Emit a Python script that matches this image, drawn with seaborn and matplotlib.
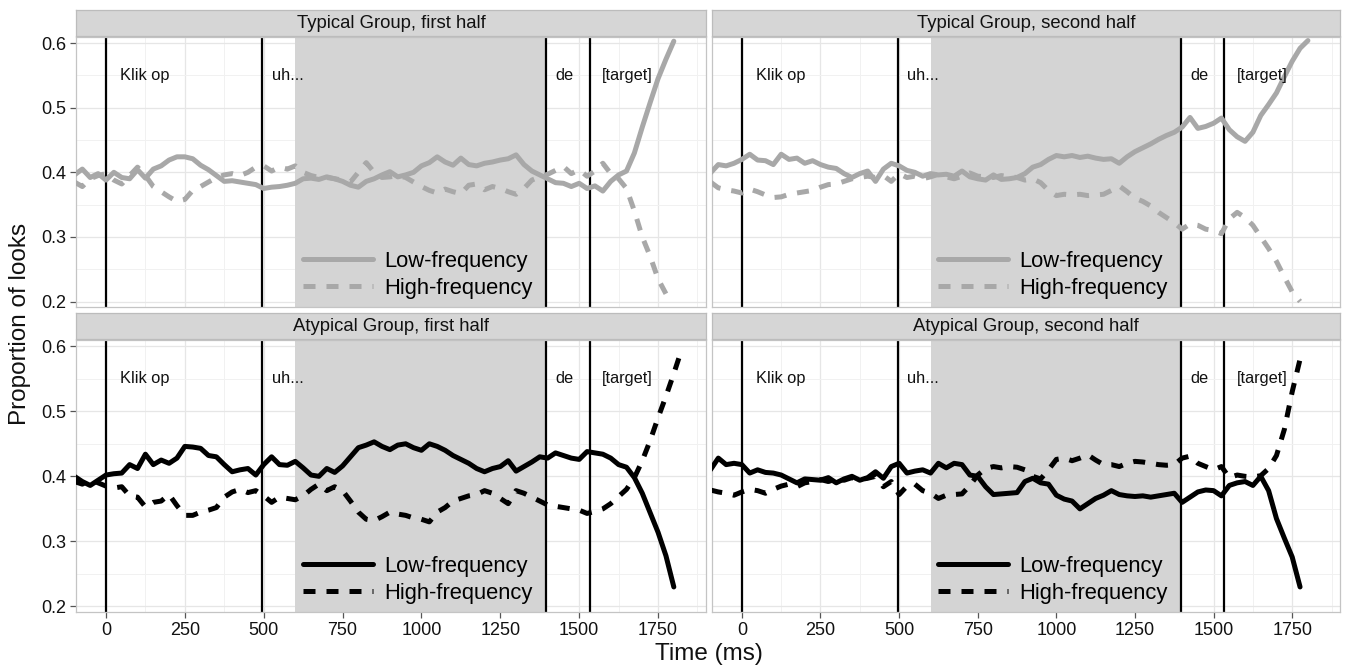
import matplotlib
matplotlib.use("Agg")
import matplotlib.pyplot as plt
import numpy as np
import pandas as pd
import seaborn as sns

# ---------------- data ----------------
time_ms = list(range(-100, 1851, 25))

typ_first_low = [0.396, 0.405, 0.392, 0.398,
    0.388, 0.400, 0.392, 0.390, 0.404, 0.391, 0.405, 0.410,
    0.419, 0.424, 0.424, 0.421, 0.411, 0.404, 0.395, 0.386,
    0.387, 0.385, 0.383, 0.381, 0.375, 0.377, 0.378, 0.380,
    0.383, 0.390, 0.391, 0.389, 0.393, 0.390, 0.386, 0.380,
    0.377, 0.386, 0.390, 0.396, 0.401, 0.393, 0.396, 0.400,
    0.410, 0.415, 0.424, 0.416, 0.411, 0.422, 0.412, 0.410,
    0.414, 0.416, 0.419, 0.421, 0.427, 0.412, 0.402, 0.396,
    0.390, 0.384, 0.383, 0.378, 0.383, 0.375, 0.379, 0.371,
    0.386, 0.396, 0.402, 0.430, 0.470, 0.508, 0.545, 0.575,
    0.603, 0.625, 0.650]
typ_first_high = [0.385, 0.378, 0.390, 0.395,
    0.398, 0.388, 0.382, 0.395, 0.408, 0.395, 0.378, 0.370,
    0.362, 0.355, 0.358, 0.372, 0.378, 0.385, 0.392, 0.396,
    0.398, 0.395, 0.400, 0.408, 0.410, 0.402, 0.408, 0.405,
    0.410, 0.400, 0.395, 0.392, 0.392, 0.390, 0.388, 0.385,
    0.400, 0.415, 0.400, 0.392, 0.393, 0.395, 0.392, 0.385,
    0.378, 0.372, 0.368, 0.374, 0.370, 0.367, 0.380, 0.382,
    0.373, 0.378, 0.375, 0.370, 0.366, 0.375, 0.388, 0.393,
    0.397, 0.403, 0.409, 0.398, 0.404, 0.394, 0.402, 0.414,
    0.398, 0.390, 0.375, 0.340, 0.300, 0.270, 0.235, 0.212,
    0.175, 0.150, 0.130]
typ_second_low = [0.399, 0.412, 0.410, 0.414,
    0.420, 0.428, 0.419, 0.418, 0.412, 0.428, 0.420, 0.422,
    0.414, 0.418, 0.412, 0.408, 0.406, 0.398, 0.392, 0.398,
    0.402, 0.386, 0.405, 0.414, 0.410, 0.403, 0.400, 0.394,
    0.398, 0.396, 0.397, 0.394, 0.402, 0.393, 0.390, 0.388,
    0.396, 0.389, 0.390, 0.392, 0.398, 0.408, 0.412, 0.420,
    0.426, 0.424, 0.426, 0.423, 0.425, 0.422, 0.420, 0.421,
    0.414, 0.424, 0.432, 0.438, 0.444, 0.451, 0.457, 0.462,
    0.470, 0.485, 0.468, 0.471, 0.476, 0.484, 0.466, 0.455,
    0.448, 0.462, 0.488, 0.505, 0.523, 0.548, 0.572, 0.592,
    0.604, 0.625, 0.640]
typ_second_high = [0.385, 0.376, 0.373, 0.371,
    0.368, 0.374, 0.370, 0.365, 0.361, 0.362, 0.366, 0.368,
    0.370, 0.372, 0.377, 0.381, 0.382, 0.386, 0.390, 0.392,
    0.394, 0.392, 0.395, 0.386, 0.398, 0.392, 0.394, 0.390,
    0.393, 0.397, 0.393, 0.390, 0.394, 0.399, 0.394, 0.393,
    0.392, 0.395, 0.393, 0.392, 0.388, 0.390, 0.384, 0.372,
    0.364, 0.366, 0.365, 0.366, 0.364, 0.365, 0.366, 0.372,
    0.379, 0.370, 0.360, 0.355, 0.348, 0.338, 0.330, 0.322,
    0.312, 0.320, 0.318, 0.312, 0.310, 0.305, 0.328, 0.338,
    0.330, 0.318, 0.300, 0.282, 0.262, 0.238, 0.215, 0.200,
    0.185, 0.170, 0.155]
atyp_first_low = [0.400, 0.392, 0.386, 0.394,
    0.402, 0.404, 0.405, 0.418, 0.412, 0.434, 0.418, 0.425,
    0.420, 0.428, 0.446, 0.445, 0.443, 0.432, 0.430, 0.418,
    0.407, 0.410, 0.412, 0.402, 0.418, 0.430, 0.418, 0.417,
    0.423, 0.413, 0.402, 0.400, 0.412, 0.406, 0.416, 0.430,
    0.444, 0.448, 0.453, 0.446, 0.441, 0.448, 0.450, 0.444,
    0.440, 0.450, 0.446, 0.440, 0.432, 0.426, 0.420, 0.412,
    0.407, 0.412, 0.415, 0.424, 0.408, 0.415, 0.422, 0.430,
    0.428, 0.436, 0.432, 0.428, 0.426, 0.438, 0.436, 0.434,
    0.428, 0.418, 0.414, 0.398, 0.374, 0.344, 0.314, 0.278,
    0.230, 0.185, 0.150]
atyp_first_high = [0.392, 0.388, 0.395, 0.390,
    0.385, 0.382, 0.384, 0.370, 0.368, 0.353, 0.360, 0.362,
    0.372, 0.355, 0.340, 0.340, 0.345, 0.348, 0.352, 0.368,
    0.376, 0.380, 0.375, 0.378, 0.370, 0.360, 0.368, 0.366,
    0.364, 0.370, 0.380, 0.388, 0.378, 0.384, 0.378, 0.362,
    0.345, 0.334, 0.332, 0.338, 0.345, 0.342, 0.340, 0.336,
    0.334, 0.330, 0.345, 0.352, 0.362, 0.366, 0.370, 0.372,
    0.378, 0.374, 0.366, 0.358, 0.378, 0.374, 0.368, 0.362,
    0.356, 0.354, 0.352, 0.350, 0.348, 0.343, 0.346, 0.350,
    0.358, 0.369, 0.380, 0.398, 0.424, 0.455, 0.490, 0.523,
    0.558, 0.595, 0.630]
atyp_second_low = [0.410, 0.428, 0.418, 0.420,
    0.418, 0.405, 0.410, 0.406, 0.405, 0.402, 0.396, 0.390,
    0.396, 0.395, 0.394, 0.398, 0.390, 0.396, 0.400, 0.394,
    0.398, 0.407, 0.397, 0.415, 0.420, 0.405, 0.408, 0.410,
    0.405, 0.420, 0.413, 0.420, 0.418, 0.402, 0.400, 0.384,
    0.372, 0.373, 0.374, 0.375, 0.392, 0.397, 0.390, 0.388,
    0.371, 0.365, 0.362, 0.350, 0.358, 0.366, 0.371, 0.378,
    0.372, 0.370, 0.369, 0.370, 0.368, 0.370, 0.372, 0.374,
    0.360, 0.368, 0.376, 0.379, 0.378, 0.370, 0.386, 0.390,
    0.392, 0.386, 0.400, 0.378, 0.335, 0.305, 0.276, 0.230,
    0.190, 0.150, 0.120]
atyp_second_high = [0.379, 0.376, 0.374, 0.371,
    0.376, 0.380, 0.378, 0.374, 0.380, 0.385, 0.388, 0.384,
    0.390, 0.392, 0.395, 0.392, 0.396, 0.394, 0.398, 0.395,
    0.397, 0.400, 0.384, 0.392, 0.372, 0.385, 0.388, 0.378,
    0.374, 0.366, 0.371, 0.372, 0.373, 0.386, 0.402, 0.412,
    0.415, 0.413, 0.415, 0.414, 0.410, 0.400, 0.396, 0.410,
    0.426, 0.428, 0.424, 0.428, 0.433, 0.425, 0.418, 0.418,
    0.415, 0.420, 0.423, 0.422, 0.420, 0.418, 0.417, 0.418,
    0.428, 0.431, 0.420, 0.415, 0.410, 0.415, 0.398, 0.402,
    0.400, 0.399, 0.401, 0.412, 0.432, 0.472, 0.530, 0.580,
    0.612, 0.640, 0.670]

panel_titles = ["Typical Group, first half", "Typical Group, second half",
                "Atypical Group, first half", "Atypical Group, second half"]
frequency_levels = ["Low-frequency", "High-frequency"]
event_times = [0, 495, 1395, 1533]
event_labels = ["Klik op", "uh...", "de", "[target]"]
event_label_x = [45, 525, 1425, 1573]
event_label_y = 0.55
shade_span = [600, 1395]
x_ticks = [0, 250, 500, 750, 1000, 1250, 1500, 1750]
y_ticks = [0.2, 0.3, 0.4, 0.5, 0.6]

panel_series = [
    (typ_first_low, typ_first_high),
    (typ_second_low, typ_second_high),
    (atyp_first_low, atyp_first_high),
    (atyp_second_low, atyp_second_high),
]

# ---------------- style ----------------
sns.set_theme(style="ticks")
plt.rcParams["font.family"] = ["Liberation Sans", "DejaVu Sans"]

W, H = 1346, 668
fig = plt.figure(figsize=(W / 100, H / 100), dpi=100)

def px_axes(x0, y0, x1, y1):
    return fig.add_axes([x0 / W, 1 - y1 / H, (x1 - x0) / W, (y1 - y0) / H])

panel_px = [(76, 37, 706, 307), (712, 37, 1340, 307),
            (76, 340, 706, 612), (712, 340, 1340, 612)]
strip_px = [(76, 10, 706, 36), (712, 10, 1340, 36),
            (76, 313, 706, 339), (712, 313, 1340, 339)]
line_colors = ["#a8a8a8", "#a8a8a8", "#000000", "#000000"]
XLIM = (-95, 1902)
YLIM = (0.1915, 0.6095)

for i in range(4):
    ax = px_axes(*panel_px[i])
    low, high = panel_series[i]
    df = pd.DataFrame({
        "time": time_ms * 2,
        "prop": list(low) + list(high),
        "freq": [frequency_levels[0]] * len(time_ms) + [frequency_levels[1]] * len(time_ms),
    })
    # like ggplot scale limits: drop out-of-range observations
    df = df[(df["prop"] >= YLIM[0]) & (df["prop"] <= YLIM[1])]

    ax.set_axisbelow(True)
    ax.axvspan(shade_span[0], shade_span[1], color="#d4d4d4", lw=0, zorder=1)
    for t in event_times:
        ax.axvline(t, color="black", lw=1.6, zorder=2)

    sns.lineplot(data=df, x="time", y="prop", style="freq",
                 style_order=frequency_levels,
                 dashes={frequency_levels[0]: "", frequency_levels[1]: (2.4, 2.2)},
                 color=line_colors[i], linewidth=3.6, errorbar=None,
                 legend=False, ax=ax, zorder=3)
    data_lines = [l for l in ax.lines if l.get_linewidth() > 3]

    for lx, lab in zip(event_label_x, event_labels):
        ax.text(lx, event_label_y, lab, fontsize=11.8, ha="left", va="center",
                color="#111111", zorder=4)

    ax.set_xticks(x_ticks)
    ax.set_yticks(y_ticks)
    ax.set_xticks([t + 125 for t in x_ticks], minor=True)
    ax.set_yticks([0.25, 0.35, 0.45, 0.55], minor=True)
    ax.set_xlim(*XLIM)
    ax.set_ylim(*YLIM)
    ax.grid(which="major", color="#e6e6e6", lw=0.9)
    ax.grid(which="minor", color="#f1f1f1", lw=0.7)
    ax.set_xlabel("")
    ax.set_ylabel("")
    for sp in ax.spines.values():
        sp.set_visible(True)
        sp.set_color("#c4c4c4")
        sp.set_linewidth(0.9)
    ax.tick_params(which="major", length=4, width=0.9, color="#555555",
                   labelsize=13, labelcolor="#111111", pad=3)
    ax.tick_params(which="minor", length=0)
    ax.yaxis.set_major_formatter(matplotlib.ticker.FormatStrFormatter("%.1f"))
    if i in (1, 3):
        ax.tick_params(axis="y", left=False, labelleft=False)
    if i in (0, 1):
        ax.tick_params(axis="x", bottom=False, labelbottom=False)

    ax.legend(handles=data_lines[:2], labels=frequency_levels,
              loc="lower left", bbox_to_anchor=(0.36, 0.03),
              frameon=False, fontsize=15.8, handlelength=3.2,
              handletextpad=0.5, labelspacing=0.27, borderpad=0,
              borderaxespad=0, labelcolor="#000000")

    sax = px_axes(*strip_px[i])
    sax.set_facecolor("#d6d6d6")
    sax.set_xticks([])
    sax.set_yticks([])
    for sp in sax.spines.values():
        sp.set_visible(True)
        sp.set_color("#bcbcbc")
        sp.set_linewidth(0.9)
    sax.text(0.5, 0.48, panel_titles[i], transform=sax.transAxes,
             ha="center", va="center", fontsize=13.3, color="#111111")

fig.text(709 / W, 1 - 654 / H, "Time (ms)", ha="center", va="center",
         fontsize=17.5, color="#111111")
fig.text(20 / W, 1 - 324 / H, "Proportion of looks", ha="center", va="center",
         rotation=90, fontsize=17.5, color="#111111")

fig.savefig("out.png", dpi=100)
